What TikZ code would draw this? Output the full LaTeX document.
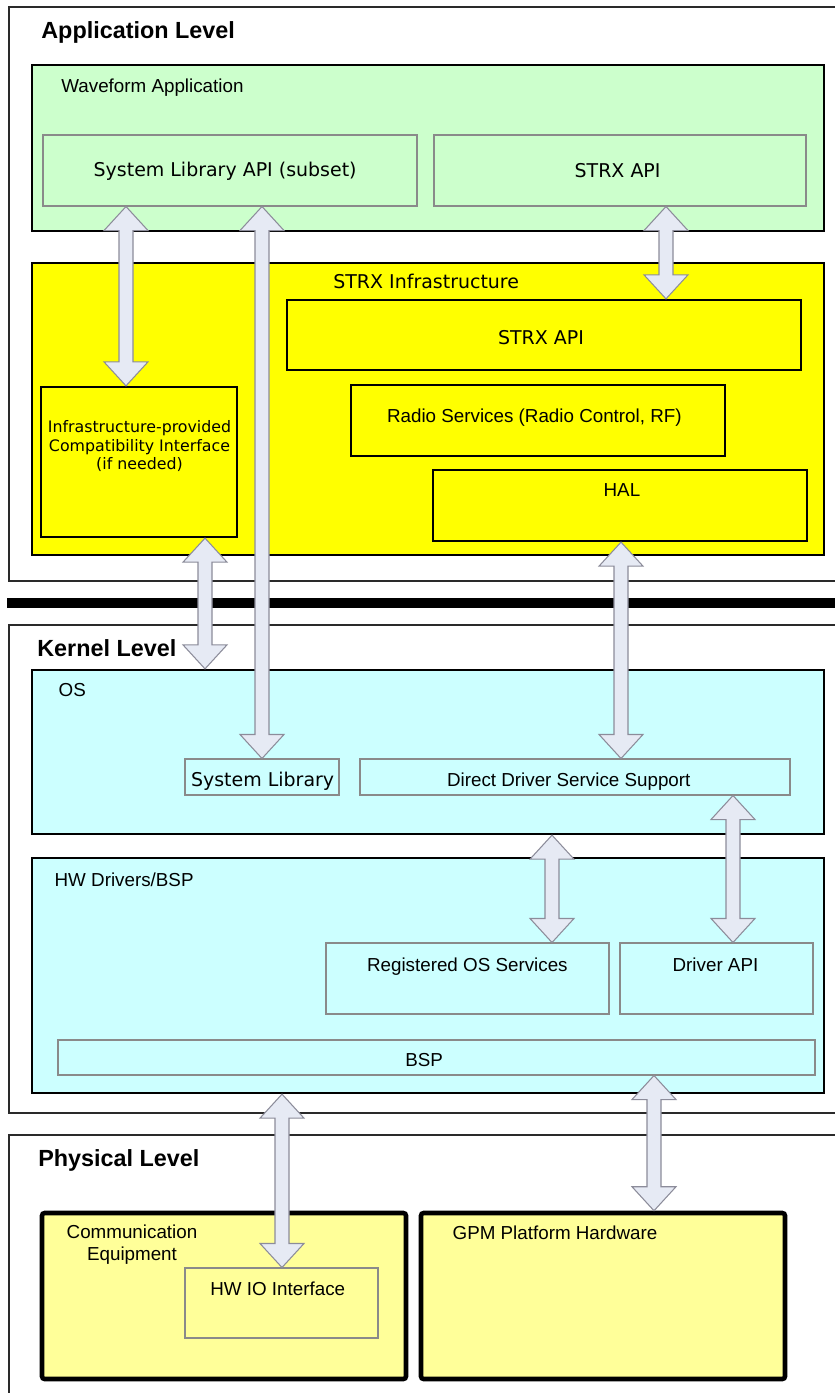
\documentclass[tikz,border=0pt]{standalone}
\usepackage{fontspec}
\setmainfont{Liberation Sans}
\newfontfamily\dvs{DejaVu Sans}
\usetikzlibrary{calc,fit}
\definecolor{wfgreen}{HTML}{CCFFCC}
\definecolor{infyel}{HTML}{FFFF00}
\definecolor{kcyan}{HTML}{CCFFFF}
\definecolor{pyel}{HTML}{FFFF99}
\definecolor{arrfill}{HTML}{E6EAF4}
\definecolor{arrline}{HTML}{8C8C9A}
\definecolor{inline}{HTML}{8A8A8A}
\definecolor{lvline}{HTML}{2A2A2A}
\tikzset{
 levelbox/.style={draw=lvline, line width=1.1pt, fill=white, inner sep=0pt},
 compbox/.style={draw=black, line width=1.3pt, inner sep=0pt},
 subbox/.style={draw=inline, line width=0.6pt, inner sep=0pt},
 hwbox/.style={draw=black, line width=2.6pt, fill=pyel, rounded corners=1.5pt, inner sep=0pt},
 ttl/.style={font=\fontsize{13.3}{16}\selectfont\bfseries, anchor=base west, inner sep=0pt},
 lbl/.style={font=\fontsize{10.7}{12.8}\selectfont, anchor=base west, inner sep=0pt},
 dlbl/.style={font=\dvs\fontsize{10.8}{13}\selectfont, anchor=base west, inner sep=0pt},
 barr/.style={draw=arrline, fill=arrfill, line width=0.6pt, line join=miter},
}
\newcommand{\rbox}[6]{\node[#2, fit={(#3,#4) (#5,#6)}] (#1) {};}
\newcommand{\blockarrow}[3]{%
 \coordinate (bT) at (#1,0 |- #2);
 \coordinate (bB) at (#1,0 |- #3);
 \draw[barr] (bT) -- ($(bT)+(22,24)$) -- ($(bT)+(7,24)$) -- ($(bB)+(7,-24)$)
   -- ($(bB)+(22,-24)$) -- (bB) -- ($(bB)+(-22,-24)$) -- ($(bB)+(-7,-24)$)
   -- ($(bT)+(-7,24)$) -- ($(bT)+(-22,24)$) -- cycle;}
\begin{document}
\begin{tikzpicture}[x=0.02cm,y=-0.02cm]
\clip (0,0) rectangle (835,1393);
\fill[white] (0,0) rectangle (835,1393);
% level boxes
\rbox{applvl}{levelbox}{9}{7}{850}{581}
\rbox{kerlvl}{levelbox}{9}{625}{850}{1113}
\rbox{phylvl}{levelbox}{9}{1135}{850}{1420}
\draw[line width=5.5pt] (7,603) -- (840,603);
% application level
\rbox{wf}{compbox, fill=wfgreen}{32}{65}{824}{231}
\rbox{wfsys}{subbox, fill=wfgreen}{43}{135}{417}{206}
\rbox{wfstrx}{subbox, fill=wfgreen}{434}{135}{806}{206}
\rbox{infra}{compbox, fill=infyel}{32}{263}{824}{555}
\rbox{istrx}{compbox, fill=infyel}{287}{300}{801}{370}
\rbox{radio}{compbox, fill=infyel}{351}{385}{725}{456}
\rbox{hal}{compbox, fill=infyel}{433}{470}{807}{541}
\rbox{compat}{compbox, fill=infyel}{41}{387}{237}{537}
% kernel level
\rbox{os}{compbox, fill=kcyan}{32}{670}{824}{834}
\rbox{syslib}{subbox, fill=kcyan}{185}{759}{339}{795}
\rbox{ddss}{subbox, fill=kcyan}{360}{759}{790}{795}
\rbox{hwd}{compbox, fill=kcyan}{32}{858}{824}{1093}
\rbox{regos}{subbox, fill=kcyan}{326}{943}{609}{1014}
\rbox{drvapi}{subbox, fill=kcyan}{620}{943}{813}{1014}
\rbox{bsp}{subbox, fill=kcyan}{58}{1040}{815}{1075}
% physical level
\rbox{comm}{hwbox}{42}{1213}{406}{1379}
\rbox{hwio}{subbox, fill=pyel}{185}{1268}{378}{1338}
\rbox{gpm}{hwbox}{421}{1213}{785}{1379}
% texts
\node[ttl] (tapp) at (41,38) {Application Level};
\node[ttl] (tker) at (37,656) {Kernel Level};
\node[ttl] (tphy) at (38,1166.5) {Physical Level};
\node[lbl] (twf) at (61,92.5) {Waveform Application};
\node[dlbl] (twfsys) at (93.3,176.5) {System Library API (subset)};
\node[dlbl] (twfstrx) at (574.3,177.5) {STRX API};
\node[dlbl] (tinfra) at (333,288) {STRX Infrastructure};
\node[dlbl] (tistrx) at (497.7,344) {STRX API};
\node[lbl] (tradio) at (386.7,422.5) {Radio Services (Radio Control, RF)};
\node[lbl] (thal) at (603.3,496.5) {HAL};
\node[font=\dvs\fontsize{9}{10.5}\selectfont, align=center, anchor=base, inner sep=0pt] (tcompat) at (139.5,469.5) {Infrastructure-provided\\Compatibility Interface\\(if needed)};
\node[lbl] (tos) at (58.3,696.5) {OS};
\node[dlbl] (tsyslib) at (190.7,786) {System Library};
\node[lbl] (tddss) at (446.7,786.5) {Direct Driver Service Support};
\node[lbl] (thwd) at (54.3,886) {HW Drivers/BSP};
\node[lbl] (tregos) at (366.7,971) {Registered OS Services};
\node[lbl] (tdrvapi) at (672.3,971) {Driver API};
\node[lbl] (tbsp) at (405,1066.5) {BSP};
\node[font=\fontsize{10.7}{12.8}\selectfont, align=center, anchor=base, inner sep=0pt] (tcomm) at (132,1260.5) {Communication\\Equipment};
\node[lbl] (thwio) at (210,1295) {HW IO Interface};
\node[lbl] (tgpm) at (452.3,1239) {GPM Platform Hardware};
% block arrows
\blockarrow{126}{wfsys.south}{compat.north}
\blockarrow{262}{wfsys.south}{syslib.north}
\blockarrow{666}{wfstrx.south}{istrx.north}
\blockarrow{205}{compat.south}{os.north}
\blockarrow{621}{hal.south}{ddss.north}
\blockarrow{552}{os.south}{regos.north}
\blockarrow{733}{ddss.south}{drvapi.north}
\blockarrow{282}{hwd.south}{hwio.north}
\blockarrow{654}{bsp.south}{gpm.north}
\end{tikzpicture}
\end{document}
